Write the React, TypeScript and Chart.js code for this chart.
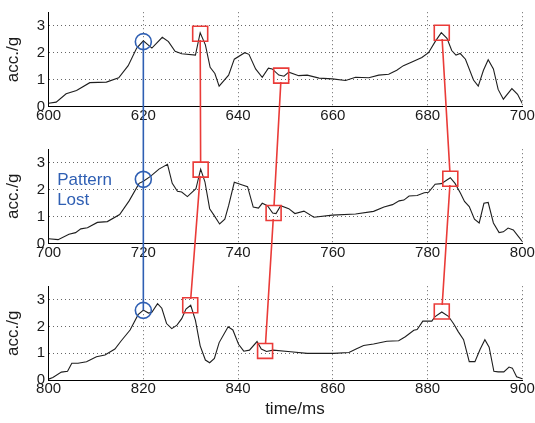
import React, { useEffect, useRef } from "react";
import { Chart, registerables } from "chart.js";

Chart.register(...registerables);

// ---------- data ----------
const time1 = [600, 601.6, 603.7, 605.9, 608.7, 612.2, 614.8, 616.8, 618.6, 620, 621.8, 624, 625.3, 626.7, 628.1, 631, 632, 633.1, 634.1, 635.1, 636, 638, 639.2, 641.4, 642.3, 643.7, 645.1, 646.4, 647.2, 648.6, 649.7, 650.7, 652.8, 654.6, 657.1, 659.9, 662.7, 664.8, 667.6, 669.7, 671.8, 673.5, 674.9, 676.7, 678.8, 680.2, 681.6, 682.9, 684.1, 685.1, 686, 686.9, 688, 689.7, 690.7, 691.8, 692.8, 693.9, 694.9, 696, 697.8, 699, 700];
const acc1 = [0.13, 0.17, 0.48, 0.6, 0.89, 0.91, 1.07, 1.52, 2.17, 2.44, 2.17, 2.57, 2.41, 2.05, 1.96, 1.91, 2.74, 2.29, 1.46, 1.23, 0.76, 1.17, 1.76, 2.0, 1.94, 1.4, 1.09, 1.43, 1.4, 1.17, 1.13, 1.28, 1.15, 1.17, 1.06, 1.03, 0.97, 1.09, 1.07, 1.17, 1.2, 1.35, 1.52, 1.66, 1.82, 2.0, 2.41, 2.74, 2.53, 2.08, 1.91, 1.97, 1.76, 0.99, 0.76, 1.35, 1.74, 1.4, 0.64, 0.28, 0.67, 0.46, 0.12];

const time2 = [700, 702, 704.3, 705.7, 706.8, 708.2, 710.3, 712.4, 715, 717, 719.1, 720, 721.5, 723.3, 725.1, 726.1, 727.2, 728.1, 729.3, 731.1, 732.1, 733, 734, 734.9, 736.1, 737.2, 738, 739.2, 740.9, 742, 743.2, 744.3, 745.1, 746.2, 747.3, 748, 749, 750.7, 752, 753.9, 756, 759.9, 764.8, 768.6, 770.8, 772.6, 774, 775, 776.1, 777.8, 779.3, 780.2, 781.6, 782.9, 784.8, 785.8, 786.9, 787.8, 788.8, 789.9, 790.9, 791.9, 792.8, 793.9, 795.1, 796, 797, 798.1, 799.2, 800];
const acc2 = [0.17, 0.14, 0.34, 0.4, 0.54, 0.58, 0.78, 0.81, 1.07, 1.58, 2.23, 2.31, 2.49, 2.76, 2.94, 2.23, 1.94, 1.91, 1.74, 2.03, 2.76, 2.29, 1.29, 1.05, 0.72, 0.9, 1.4, 2.27, 2.17, 2.11, 1.35, 1.31, 1.49, 1.4, 1.13, 1.11, 1.4, 1.29, 1.11, 1.2, 0.97, 1.05, 1.09, 1.19, 1.35, 1.44, 1.58, 1.61, 1.76, 1.78, 1.88, 1.9, 2.2, 2.22, 2.44, 2.23, 1.88, 1.56, 1.37, 0.9, 0.76, 1.49, 1.52, 0.76, 0.4, 0.43, 0.57, 0.5, 0.25, 0.07];

const time3 = [800, 800.9, 802.7, 804, 804.9, 806.2, 808, 810.1, 811.9, 814, 815.3, 817.2, 818.9, 820, 821.1, 821.8, 823, 823.9, 824.9, 826, 827.1, 828.1, 829, 830, 831, 832, 833.1, 834, 835, 836, 837.9, 838.9, 840.1, 841.2, 842.4, 844, 844.9, 846, 847.4, 851.1, 854.6, 858.1, 860.2, 863.4, 864.8, 866.5, 868.6, 871.4, 873.9, 875.3, 877.1, 877.8, 879, 880.9, 881.6, 883, 884.4, 885.5, 886.5, 887.6, 888.8, 890, 891.1, 892.1, 893, 894, 894.9, 896.1, 897.2, 897.9, 898.8, 900];
const acc3 = [0.04, 0.1, 0.3, 0.33, 0.63, 0.63, 0.69, 0.87, 0.94, 1.16, 1.46, 1.87, 2.44, 2.61, 2.5, 2.53, 2.85, 2.68, 2.11, 1.92, 2.05, 2.29, 2.65, 2.79, 2.23, 1.28, 0.75, 0.65, 0.81, 1.4, 1.99, 1.87, 1.34, 1.08, 1.12, 1.44, 1.16, 1.07, 1.12, 1.06, 1.0, 1.0, 1.0, 1.03, 1.15, 1.29, 1.35, 1.45, 1.47, 1.62, 1.86, 1.89, 2.2, 2.2, 2.37, 2.54, 2.38, 2.1, 1.8, 1.51, 0.69, 0.69, 1.15, 1.51, 1.23, 0.33, 0.31, 0.31, 0.49, 0.45, 0.13, 0.05];

const xRanges = [[600, 700], [700, 800], [800, 900]];
const yRange = [0, 3.5];
const xStep = 20;
const yStep = 1;

// markers: one per panel (index = panel)
const circleTime = [620, 720, 820];
const circleAcc = [2.41, 2.38, 2.6];
const squareATime = [632, 732.1, 829.9];
const squareAAcc = [2.7, 2.74, 2.79];
const squareBTime = [649.1, 747.5, 845.7];
const squareBAcc = [1.15, 1.13, 1.09];
const squareCTime = [683, 784.8, 883];
const squareCAcc = [2.74, 2.4, 2.56];

const annotationLines = ["Pattern", "Lost"];
const annotationTime = 701.8;
const annotationAcc = [2.16, 1.44];

const yTitle = "acc./g";
const xTitle = "time/ms";

// ---------- style / layout ----------
const FONT = "'Liberation Sans', Arial, Helvetica, sans-serif";
const BLUE = "#2f5fb3";
const RED = "#ea3b38";
const GRID = "rgba(0,0,0,0.6)";
const W = 535;
const H = 423;
const canvasTops = [0, 137, 274];
const canvasHeights = [137, 137, 149];
const areaTops = [7.5, 144.8, 282];
const areaBottoms = [106.7, 243.4, 380.2];
const AREA_LEFT = 48.6;
const AREA_RIGHT = 522.3;
const CIRCLE_R = 8;
const SQUARE_R = 10.6;

const panelTimes = [time1, time2, time3];
const panelAccs = [acc1, acc2, acc3];

function makeConfig(i: number): any {
  const series = panelTimes[i].map((t, k) => ({ x: t, y: panelAccs[i][k] }));
  const squares = [
    { x: squareATime[i], y: squareAAcc[i] },
    { x: squareBTime[i], y: squareBAcc[i] },
    { x: squareCTime[i], y: squareCAcc[i] },
  ];
  const isLast = i === 2;
  const plugins: any[] = [];
  if (i === 1) {
    plugins.push({
      id: "patternLost",
      afterDatasetsDraw(chart: any) {
        const ctx = chart.ctx;
        const xs = chart.scales.x;
        const ys = chart.scales.y;
        ctx.save();
        ctx.font = `17px ${FONT}`;
        ctx.fillStyle = BLUE;
        ctx.textAlign = "left";
        ctx.textBaseline = "alphabetic";
        annotationLines.forEach((line, k) => {
          ctx.fillText(line, xs.getPixelForValue(annotationTime), ys.getPixelForValue(annotationAcc[k]));
        });
        ctx.restore();
      },
    });
  }
  return {
    type: "scatter",
    data: {
      datasets: [
        {
          data: series,
          showLine: true,
          borderColor: "#1e1e1e",
          borderWidth: 1.1,
          pointRadius: 0,
          tension: 0,
          order: 3,
        },
        {
          data: [{ x: circleTime[i], y: circleAcc[i] }],
          showLine: false,
          pointStyle: "circle",
          pointRadius: CIRCLE_R,
          pointBorderColor: BLUE,
          pointBorderWidth: 1.6,
          pointBackgroundColor: "rgba(0,0,0,0)",
          borderColor: BLUE,
          backgroundColor: "rgba(0,0,0,0)",
          order: 1,
          clip: false,
        },
        {
          data: squares,
          showLine: false,
          pointStyle: "rect",
          pointRadius: SQUARE_R,
          pointBorderColor: RED,
          pointBorderWidth: 1.6,
          pointBackgroundColor: "rgba(0,0,0,0)",
          borderColor: RED,
          backgroundColor: "rgba(0,0,0,0)",
          order: 1,
          clip: false,
        },
      ],
    },
    options: {
      responsive: false,
      animation: false,
      events: [],
      layout: {
        padding: {
          top: areaTops[i] - canvasTops[i],
          right: W - AREA_RIGHT,
          left: 0,
          bottom: 0,
        },
      },
      plugins: { legend: { display: false }, tooltip: { enabled: false } },
      scales: {
        x: {
          type: "linear",
          min: xRanges[i][0],
          max: xRanges[i][1],
          afterFit: (s: any) => {
            s.height = canvasTops[i] + canvasHeights[i] - areaBottoms[i];
            s.paddingLeft = 0;
            s.paddingRight = 0;
          },
          ticks: {
            stepSize: xStep,
            autoSkip: false,
            maxRotation: 0,
            padding: 0,
            color: "#1a1a1a",
            font: { family: FONT, size: 15 },
          },
          grid: { color: GRID, lineWidth: 1, drawTicks: false },
          border: { display: true, color: "#000", width: 1, dash: [1, 3] },
          title: {
            display: isLast,
            text: "    " + xTitle,
            color: "#1a1a1a",
            font: { family: FONT, size: 17 },
            padding: { top: 0, bottom: 3 },
          },
        },
        y: {
          type: "linear",
          min: yRange[0],
          max: yRange[1],
          afterFit: (s: any) => {
            s.width = AREA_LEFT;
            s.paddingTop = 0;
            s.paddingBottom = 0;
          },
          ticks: {
            stepSize: yStep,
            includeBounds: false,
            padding: 3.5,
            color: "#1a1a1a",
            font: { family: FONT, size: 15 },
          },
          grid: { color: GRID, lineWidth: 1, drawTicks: false },
          border: { display: true, color: "#000", width: 1, dash: [1, 3] },
          title: {
            display: true,
            text: yTitle,
            color: "#1a1a1a",
            font: { family: FONT, size: 17 },
            padding: { top: 3.5, bottom: 0 },
          },
        },
      },
    },
    plugins,
  };
}

export default function App() {
  const c0 = useRef<HTMLCanvasElement>(null);
  const c1 = useRef<HTMLCanvasElement>(null);
  const c2 = useRef<HTMLCanvasElement>(null);
  const overlayRef = useRef<HTMLCanvasElement>(null);

  useEffect(() => {
    document.body.style.margin = "0";
    const canvases = [c0.current!, c1.current!, c2.current!];
    const charts = canvases.map((cv, i) => new Chart(cv, makeConfig(i)));

    const ov = overlayRef.current!;
    const ctx = ov.getContext("2d")!;
    ctx.clearRect(0, 0, W, H);
    const toPx = (i: number, t: number, v: number) => {
      const ch: any = charts[i];
      return [ch.scales.x.getPixelForValue(t), ch.scales.y.getPixelForValue(v) + canvasTops[i]];
    };
    const link = (times: number[], vals: number[], color: string) => {
      ctx.save();
      ctx.strokeStyle = color;
      ctx.lineWidth = 1.6;
      ctx.beginPath();
      times.forEach((t, i) => {
        const [x, y] = toPx(i, t, vals[i]);
        if (i === 0) ctx.moveTo(x, y);
        else ctx.lineTo(x, y);
      });
      ctx.stroke();
      ctx.restore();
    };
    link(squareATime, squareAAcc, RED);
    link(squareBTime, squareBAcc, RED);
    link(squareCTime, squareCAcc, RED);
    // keep the square interiors clear of the link lines
    const half = SQUARE_R * Math.SQRT1_2 - 1;
    [
      [squareATime, squareAAcc],
      [squareBTime, squareBAcc],
      [squareCTime, squareCAcc],
    ].forEach(([ts, vs]) => {
      ts.forEach((t, i) => {
        const [x, y] = toPx(i, t, vs[i]);
        ctx.clearRect(x - half, y - half, half * 2, half * 2);
      });
    });
    link(circleTime, circleAcc, BLUE);

    return () => {
      charts.forEach((c) => c.destroy());
    };
  }, []);

  const refs = [c0, c1, c2];
  return (
    <div style={{ position: "relative", width: W, height: H, background: "#fff", overflow: "hidden" }}>
      {refs.map((r, i) => (
        <canvas
          key={i}
          ref={r}
          width={W}
          height={canvasHeights[i]}
          style={{ position: "absolute", left: 0, top: canvasTops[i], width: W, height: canvasHeights[i] }}
        />
      ))}
      <canvas
        ref={overlayRef}
        width={W}
        height={H}
        style={{ position: "absolute", left: 0, top: 0, width: W, height: H, pointerEvents: "none" }}
      />
    </div>
  );
}
